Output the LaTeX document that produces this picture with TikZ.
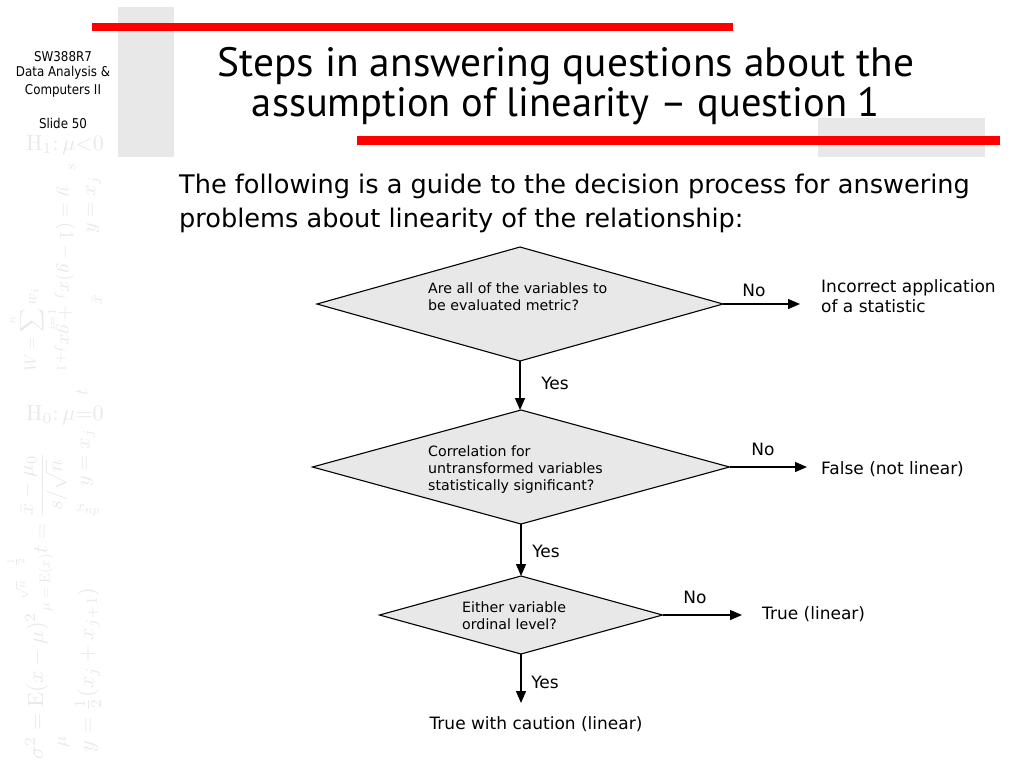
\documentclass[tikz,border=0pt]{standalone}
\usepackage{graphicx}
\usepackage[no-math]{fontspec}
\setmainfont{DejaVu Sans}
\newfontfamily\titlefont{PT Sans}
\newfontfamily\sidefont[FakeStretch=0.88]{DejaVu Sans}
\usetikzlibrary{shapes.geometric,arrows.meta}
\definecolor{wm}{gray}{0.915}
\definecolor{panelgray}{gray}{0.91}
\definecolor{diafill}{gray}{0.91}
\definecolor{barred}{RGB}{255,0,0}
\tikzset{
  titletext/.style={font=\titlefont\fontsize{41}{41}\selectfont, inner sep=0, anchor=base},
  bodytext/.style={font=\fontsize{25.6}{30}\selectfont, inner sep=0, anchor=base west},
  qtext/.style={font=\fontsize{14.2}{17}\selectfont, inner sep=0, anchor=base west},
  lbl/.style={font=\fontsize{17}{20}\selectfont, inner sep=0, anchor=base},
  lblw/.style={font=\fontsize{17}{20}\selectfont, inner sep=0, anchor=base west},
  sidetext/.style={font=\sidefont\fontsize{13.5}{16}\selectfont, inner sep=0, anchor=base},
  decision/.style={diamond, draw=black, line width=1.1pt, fill=diafill, inner sep=0, outer sep=0},
  arr/.style={line width=1.3pt, -{Triangle[length=12pt,width=10pt]}},
  wmath/.style={text=wm, inner sep=0}
}
\begin{document}
\begin{tikzpicture}[x=1pt,y=-1pt]
\useasboundingbox (0,0) rectangle (1024,768);
\fill[white] (0,0) rectangle (1024,768);

% background panels and bars
\fill[panelgray] (118,7) rectangle (174,157);
\fill[panelgray] (818,118) rectangle (985,157);
\fill[barred] (92,23) rectangle (733,31);
\fill[barred] (357,136) rectangle (1000,145);

% watermark formulas
\node[wmath, scale=2.2] (w1) at (65,145) {$\mathrm{H}_1{:}\,\mu{<}0$};
\node[wmath, scale=1.7, rotate=90] (w2) at (72,168) {$s$};
\node[wmath, scale=1.95, rotate=-90] (w3) at (65,280) {$y=(1-g)x_j+gx_{j+1}$};
\node[wmath, scale=1.65, rotate=90] (w4) at (33,330) {$\displaystyle W=\sum_{i=1}^{n} w_i$};
\node[wmath, scale=2.0, rotate=90] (w5) at (94,205) {$y=x_j$};
\node[wmath, scale=1.7, rotate=90] (w7) at (97,300) {$\bar{x}$};
\node[wmath, scale=1.8, rotate=90] (w8) at (82,392) {$t$};
\node[wmath, scale=2.2] (w9) at (65,415) {$\mathrm{H}_0{:}\,\mu{=}0$};
\node[wmath, scale=2.1, rotate=90] (w10) at (44,503) {$\displaystyle t=\frac{\bar{x}-\mu_0}{s/\sqrt{n}}$};
\node[wmath, scale=2.0, rotate=90] (w11) at (88,458) {$y=x_j$};
\node[wmath, scale=1.4, rotate=90] (w12) at (16,562) {$\frac{1}{2}$};
\node[wmath, scale=1.6] (w13) at (88,510) {$x_{np}$};
\node[wmath, scale=1.45, rotate=90] (w14) at (46,583) {$\mu=\mathrm{E}(x)$};
\node[wmath, scale=2.2, rotate=90] (w15) at (88,670) {$y=\frac{1}{2}(x_j+x_{j+1})$};
\node[wmath, scale=2.2, rotate=90] (w16) at (37,686) {$\sigma^2=\mathrm{E}(x-\mu)^2$};
\node[wmath, scale=1.3, rotate=90] (w17) at (22,590) {$\sqrt{n}$};
\node[wmath, scale=1.9, rotate=90] (w18) at (64,742) {$\mu$};

% sidebar
\node[sidetext] (s1) at (63,61) {SW388R7};
\node[sidetext] (s2) at (63,77) {Data Analysis \&};
\node[sidetext] (s3) at (63,94) {Computers II};
\node[sidetext] (s4) at (63,128) {Slide 50};

% title
\node[titletext] (title1) at (566,77) {\resizebox{697pt}{\height}{Steps in answering questions about the}};
\node[titletext] (title2) at (566,116) {\resizebox{628pt}{\height}{assumption of linearity – question 1}};

% body text
\node[bodytext] (b1) at (179,193) {The following is a guide to the decision process for answering};
\node[bodytext] (b2) at (179,227) {problems about linearity of the relationship:};

% decisions
\node[decision, minimum width=406pt, minimum height=114pt] (d1) at (520,304) {};
\node[decision, minimum width=417pt, minimum height=114pt] (d2) at (521,467) {};
\node[decision, minimum width=283pt, minimum height=78pt] (d3) at (521,615) {};

\node[qtext] (q1a) at (428,293) {Are all of the variables to};
\node[qtext] (q1b) at (428,310) {be evaluated metric?};
\node[qtext] (q2a) at (428,456) {Correlation for};
\node[qtext] (q2b) at (428,473) {untransformed variables};
\node[qtext] (q2c) at (428,490) {statistically significant?};
\node[qtext] (q3a) at (462,612) {Either variable};
\node[qtext] (q3b) at (462,629) {ordinal level?};

% outcomes
\node[lblw] (r1a) at (821,292) {Incorrect application};
\node[lblw] (r1b) at (821,312) {of a statistic};
\node[lblw] (r2) at (821,474) {False (not linear)};
\node[lblw] (r3) at (762,619) {True (linear)};
\node[lbl] (r4) at (536,729) {True with caution (linear)};

% connector ends
\coordinate (e1) at (800,304);
\coordinate (e2) at (807,467);
\coordinate (e3) at (742,615);
\coordinate (e4) at (521,703);

% connectors
\draw[arr] (d1.east) -- (e1);
\draw[arr] (d2.east) -- (e2);
\draw[arr] (d3.east) -- (e3);
\draw[arr] (d1.south) -- (d1.south |- d2.north);
\draw[arr] (d2.south) -- (d3.north);
\draw[arr] (d3.south) -- (e4);

% connector labels
\node[lbl] (n1) at (754,296) {No};
\node[lbl] (y1) at (555,389) {Yes};
\node[lbl] (n2) at (763,455) {No};
\node[lbl] (y2) at (546,557) {Yes};
\node[lbl] (n3) at (695,603) {No};
\node[lbl] (y3) at (545,688) {Yes};
\end{tikzpicture}
\end{document}
